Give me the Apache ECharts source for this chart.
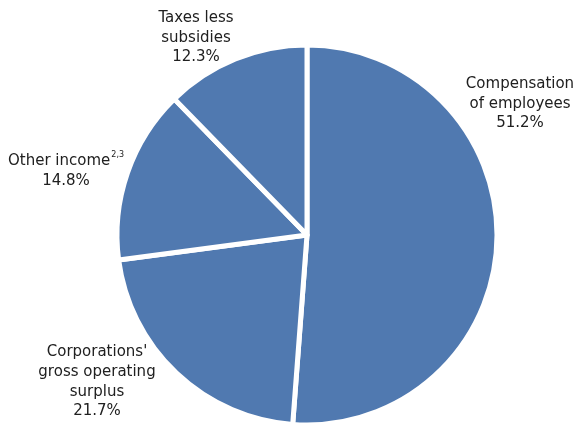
<!DOCTYPE html>
<html>
<head>
<meta charset="utf-8">
<script src="https://cdn.jsdelivr.net/npm/echarts@6/dist/echarts.min.js"></script>
<style>
  html, body { margin: 0; padding: 0; background: #fff; }
  #chart { width: 582px; height: 424px; }
</style>
</head>
<body>
<div id="chart"></div>
<script>
// Income components, shares of total (%)
const categories = [
  'Compensation\nof employees',
  "Corporations'\ngross operating\nsurplus",
  'Other income',
  'Taxes less\nsubsidies'
];
const shares = [51.2, 21.7, 14.8, 12.3];
const superscripts = ['', '', '2,3', ''];

// Label anchor points (centre of each text block)
const labelAnchors = [
  { x: 520, y: 104 },
  { x: 97, y: 382 },
  { x: 66, y: 171 },
  { x: 196, y: 38 }
];

const chart = echarts.init(document.getElementById('chart'), null, { renderer: 'canvas' });

const data = categories.map((name, i) => ({
  name: name,
  value: shares[i],
  sup: superscripts[i]
}));

const FONT = 'DejaVu Sans, Liberation Sans, Arial, sans-serif';

chart.setOption({
  animation: false,
  series: [{
    type: 'pie',
    center: [307, 235],
    radius: [0, 190],
    startAngle: 90,
    clockwise: true,
    data: data,
    itemStyle: {
      color: '#5079b0',
      borderColor: '#ffffff',
      borderWidth: 5
    },
    label: {
      show: true,
      position: 'outside',
      overflow: 'none',
      formatter: function (p) {
        const sup = p.data.sup ? '{sup|' + p.data.sup + '}' : '';
        return '{t|' + p.name.split('\n').join('}\n{t|') + '}' + sup + '\n{t|' + p.value.toFixed(1) + '%}';
      },
      rich: {
        t: {
          fontFamily: FONT,
          fontSize: 15,
          lineHeight: 19.6,
          color: '#202020',
          align: 'center'
        },
        sup: {
          fontFamily: FONT,
          fontSize: 8,
          lineHeight: 19.6,
          color: '#202020',
          verticalAlign: 'top',
          padding: [0, 0, 8, 1]
        }
      },
      textAlign: 'center'
    },
    labelLine: { show: false },
    labelLayout: function (params) {
      const a = labelAnchors[params.dataIndex];
      return { x: a.x, y: a.y, align: 'center', verticalAlign: 'middle' };
    }
  }]
});
</script>
</body>
</html>
